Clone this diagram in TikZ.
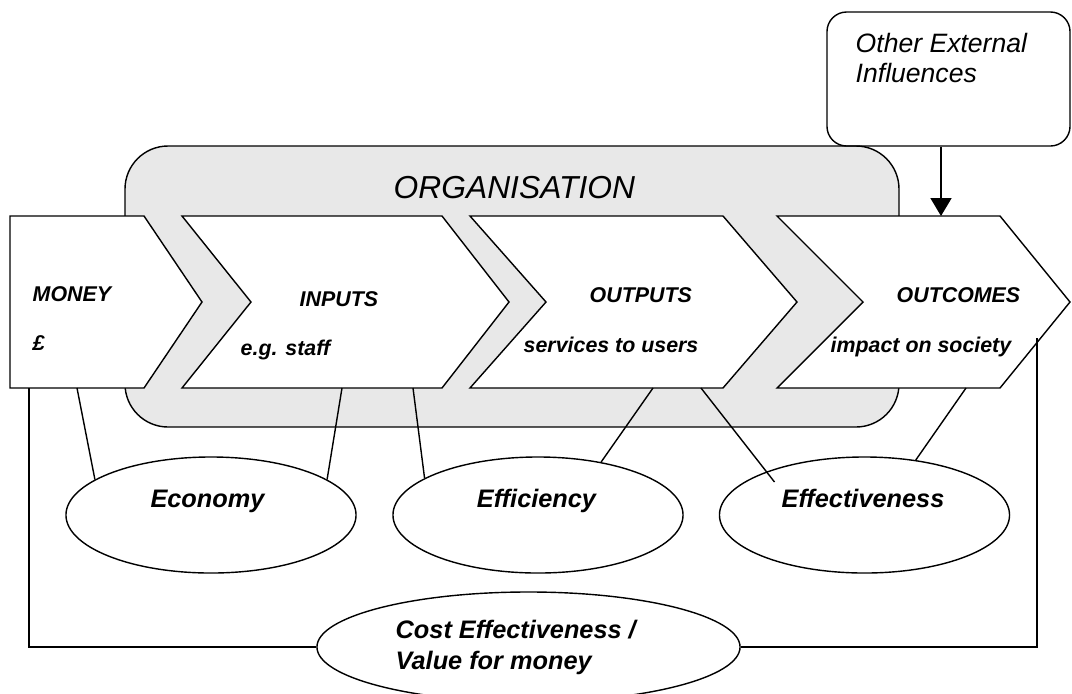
\documentclass[tikz,border=0pt]{standalone}
\usepackage{fontspec}
\setmainfont{Liberation Sans}
\usepackage{tikz}
\usetikzlibrary{shapes.geometric,arrows.meta}
\definecolor{orggray}{rgb}{0.91,0.91,0.91}

\begin{document}
\begin{tikzpicture}[x=0.025cm,y=-0.025cm,line width=1pt,
  chev/.style={draw,fill=white},
  tag/.style={anchor=base west,inner sep=0pt,font=\fontsize{15.2}{18}\selectfont\bfseries\itshape},
  oval/.style={draw,ellipse,inner sep=0pt,minimum width=7.25cm,minimum height=2.9cm},
  ovaltext/.style={anchor=base,inner sep=0pt,font=\fontsize{18}{22}\selectfont\bfseries\itshape},
  note/.style={anchor=base west,inner sep=0pt,font=\fontsize{18.9}{22}\selectfont\itshape}]

\useasboundingbox (0,0) rectangle (1072,693);

% organisation
\draw[fill=orggray,rounded corners=30.6pt] (125,146) rectangle (899,427);
\node[anchor=base west,inner sep=0pt,font=\fontsize{22.6}{27}\selectfont\itshape] (org) at (393,198) {ORGANISATION};

% external influences
\node[draw,rounded corners=14pt,minimum width=6.075cm,minimum height=3.35cm] (ext) at (948.5,79) {};
\node[note] (ext1) at (855,52) {Other External};
\node[note] (ext2) at (855,82) {Influences};

% chain
\draw[chev] (10,216) -- (144,216) -- (202,302) -- (144,388) -- (10,388) -- cycle;
\draw[chev] (182,216) -- (442,216) -- (509,302) -- (442,388) -- (182,388) -- (251,302) -- cycle;
\draw[chev] (470,216) -- (723,216) -- (797,302) -- (723,388) -- (470,388) -- (546,302) -- cycle;
\draw[chev] (777,216) -- (1000,216) -- (1070,302) -- (1000,388) -- (777,388) -- (863,302) -- cycle;

\node[tag] (money) at (32,301) {MONEY};
\node[tag] (pound) at (32,350) {£};
\node[tag] (inputs) at (299,306) {INPUTS};
\node[tag] (staff) at (240,355) {e.g. staff};
\node[tag] (outputs) at (589,302) {OUTPUTS};
\node[tag] (users) at (523,352) {services to users};
\node[tag] (outcomes) at (896,302) {OUTCOMES};
\node[tag] (society) at (830,352) {impact on society};

\coordinate (oc0) at (941,216);
\draw[-{Triangle[width=15pt,length=12.8pt]}] (ext.south -| oc0) -- (oc0);

% the three Es
\node[oval] (econ) at (211,515) {};
\node[oval] (effc) at (538,515) {};
\node[oval] (effv) at (864.5,515) {};
\node[oval,minimum width=10.575cm,minimum height=2.75cm] (cost) at (528.5,647) {};

\node[ovaltext] (econt) at (207.5,507) {Economy};
\node[ovaltext] (effct) at (536.5,507) {Efficiency};
\node[ovaltext] (effvt) at (863,507) {Effectiveness};
\node[ovaltext,anchor=base west] (cost1) at (395,638) {Cost Effectiveness /};
\node[ovaltext,anchor=base west] (cost2) at (395,669) {Value for money};

\coordinate (m0) at (29,388);
\coordinate (m1) at (77,388);
\coordinate (in1) at (342,388);
\coordinate (in2) at (413,388);
\coordinate (out1) at (653,388);
\coordinate (out2) at (701,388);
\coordinate (oc1) at (966,388);
\coordinate (oc2) at (1037,338);

\draw (m1) -- (econ.163);
\draw (in1) -- (econ.17);
\draw (in2) -- (effc.162);
\draw (out1) -- (effc.40);
\draw (out2) -- ([shift={(-90,-33)}]effv.center);
\draw (oc1) -- (effv.47);

\draw[line width=1.4pt] (m0) |- (cost.west);
\draw[line width=1.4pt] (oc2) |- (cost.east);
\end{tikzpicture}
\end{document}
